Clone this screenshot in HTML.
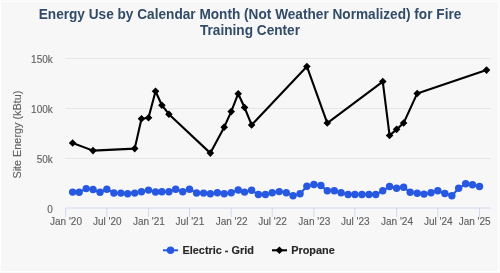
<!DOCTYPE html>
<html><head><meta charset="utf-8"><style>
html,body{margin:0;padding:0;background:#fff;width:500px;height:273px;overflow:hidden}
svg{position:absolute;left:0;top:0;display:block;will-change:transform}
text{font-family:"Liberation Sans",sans-serif}
.ax{font-size:10px;fill:#606060;stroke:#606060;stroke-width:0.12px}
.yt{font-size:10.85px;fill:#606060;stroke:#606060;stroke-width:0.1px}
.lg{font-size:10.9px;font-weight:bold;fill:#282828;stroke:#282828;stroke-width:0.15px}
.tt{font-size:13.65px;font-weight:bold;fill:#314b68}
</style></head><body>
<svg width="500" height="273" viewBox="0 0 500 273">
<rect x="0" y="0" width="500" height="273" fill="#f9f9f9"/>
<rect x="0" y="1" width="499" height="271" fill="#fff"/>
<rect x="1" y="2" width="497" height="269" fill="#f7f7f7"/>
<line x1="65.8" x2="491" y1="158.50" y2="158.50" stroke="#e6e6e6" stroke-width="1"/>
<line x1="65.8" x2="491" y1="108.50" y2="108.50" stroke="#e6e6e6" stroke-width="1"/>
<line x1="65.8" x2="491" y1="58.50" y2="58.50" stroke="#e6e6e6" stroke-width="1"/>
<line x1="65.8" x2="491" y1="208" y2="208" stroke="#ccd6eb" stroke-width="0.9"/>
<line x1="65.60" x2="65.60" y1="208" y2="217" stroke="#ccd6eb" stroke-width="0.9"/>
<text x="66.00" y="224.6" text-anchor="middle" class="ax">Jan '20</text>
<line x1="106.83" x2="106.83" y1="208" y2="217" stroke="#ccd6eb" stroke-width="0.9"/>
<text x="107.23" y="224.6" text-anchor="middle" class="ax">Jul '20</text>
<line x1="148.52" x2="148.52" y1="208" y2="217" stroke="#ccd6eb" stroke-width="0.9"/>
<text x="148.92" y="224.6" text-anchor="middle" class="ax">Jan '21</text>
<line x1="189.52" x2="189.52" y1="208" y2="217" stroke="#ccd6eb" stroke-width="0.9"/>
<text x="189.92" y="224.6" text-anchor="middle" class="ax">Jul '21</text>
<line x1="231.21" x2="231.21" y1="208" y2="217" stroke="#ccd6eb" stroke-width="0.9"/>
<text x="231.61" y="224.6" text-anchor="middle" class="ax">Jan '22</text>
<line x1="272.21" x2="272.21" y1="208" y2="217" stroke="#ccd6eb" stroke-width="0.9"/>
<text x="272.61" y="224.6" text-anchor="middle" class="ax">Jul '22</text>
<line x1="313.90" x2="313.90" y1="208" y2="217" stroke="#ccd6eb" stroke-width="0.9"/>
<text x="314.30" y="224.6" text-anchor="middle" class="ax">Jan '23</text>
<line x1="354.90" x2="354.90" y1="208" y2="217" stroke="#ccd6eb" stroke-width="0.9"/>
<text x="355.30" y="224.6" text-anchor="middle" class="ax">Jul '23</text>
<line x1="396.59" x2="396.59" y1="208" y2="217" stroke="#ccd6eb" stroke-width="0.9"/>
<text x="396.99" y="224.6" text-anchor="middle" class="ax">Jan '24</text>
<line x1="437.82" x2="437.82" y1="208" y2="217" stroke="#ccd6eb" stroke-width="0.9"/>
<text x="438.22" y="224.6" text-anchor="middle" class="ax">Jul '24</text>
<line x1="479.51" x2="479.51" y1="208" y2="217" stroke="#ccd6eb" stroke-width="0.9"/>
<text x="490.6" y="224.6" text-anchor="end" class="ax">Jan '25</text>
<text x="52.8" y="212.70" text-anchor="end" class="ax">0</text>
<text x="52.8" y="163.20" text-anchor="end" class="ax">50k</text>
<text x="52.8" y="113.20" text-anchor="end" class="ax">100k</text>
<text x="52.8" y="63.20" text-anchor="end" class="ax">150k</text>
<text transform="translate(21.1,134.6) rotate(-90)" text-anchor="middle" class="yt">Site Energy (kBtu)</text>
<polyline fill="none" stroke="#2758e2" stroke-width="2" stroke-linejoin="round" points="72.62,192.08 79.19,192.28 86.22,188.59 93.01,189.49 100.04,192.28 106.83,189.29 113.86,192.98 120.88,193.08 127.67,193.78 134.70,193.08 141.49,191.78 148.52,190.09 155.54,191.98 161.88,191.78 168.91,191.78 175.70,189.29 182.73,191.78 189.52,189.29 196.55,192.98 203.57,193.08 210.37,193.78 217.39,192.78 224.19,193.78 231.21,192.78 238.23,189.99 244.57,192.08 251.60,190.29 258.39,194.48 265.42,194.48 272.21,192.78 279.24,191.58 286.26,192.78 293.06,195.78 300.08,193.78 306.88,186.29 313.90,184.50 320.92,185.50 327.27,190.78 334.29,190.78 341.08,192.78 348.11,194.48 354.90,194.48 361.93,194.48 368.95,194.48 375.75,194.48 382.77,190.78 389.57,186.49 396.59,188.29 403.61,187.29 410.18,192.28 417.21,193.28 424.00,194.08 431.03,192.78 437.82,190.78 444.84,193.48 451.87,195.78 458.66,188.29 465.69,183.80 472.48,184.80 479.51,186.49"/>
<circle cx="72.62" cy="192.08" r="3.7" fill="#2758e2"/>
<circle cx="79.19" cy="192.28" r="3.7" fill="#2758e2"/>
<circle cx="86.22" cy="188.59" r="3.7" fill="#2758e2"/>
<circle cx="93.01" cy="189.49" r="3.7" fill="#2758e2"/>
<circle cx="100.04" cy="192.28" r="3.7" fill="#2758e2"/>
<circle cx="106.83" cy="189.29" r="3.7" fill="#2758e2"/>
<circle cx="113.86" cy="192.98" r="3.7" fill="#2758e2"/>
<circle cx="120.88" cy="193.08" r="3.7" fill="#2758e2"/>
<circle cx="127.67" cy="193.78" r="3.7" fill="#2758e2"/>
<circle cx="134.70" cy="193.08" r="3.7" fill="#2758e2"/>
<circle cx="141.49" cy="191.78" r="3.7" fill="#2758e2"/>
<circle cx="148.52" cy="190.09" r="3.7" fill="#2758e2"/>
<circle cx="155.54" cy="191.98" r="3.7" fill="#2758e2"/>
<circle cx="161.88" cy="191.78" r="3.7" fill="#2758e2"/>
<circle cx="168.91" cy="191.78" r="3.7" fill="#2758e2"/>
<circle cx="175.70" cy="189.29" r="3.7" fill="#2758e2"/>
<circle cx="182.73" cy="191.78" r="3.7" fill="#2758e2"/>
<circle cx="189.52" cy="189.29" r="3.7" fill="#2758e2"/>
<circle cx="196.55" cy="192.98" r="3.7" fill="#2758e2"/>
<circle cx="203.57" cy="193.08" r="3.7" fill="#2758e2"/>
<circle cx="210.37" cy="193.78" r="3.7" fill="#2758e2"/>
<circle cx="217.39" cy="192.78" r="3.7" fill="#2758e2"/>
<circle cx="224.19" cy="193.78" r="3.7" fill="#2758e2"/>
<circle cx="231.21" cy="192.78" r="3.7" fill="#2758e2"/>
<circle cx="238.23" cy="189.99" r="3.7" fill="#2758e2"/>
<circle cx="244.57" cy="192.08" r="3.7" fill="#2758e2"/>
<circle cx="251.60" cy="190.29" r="3.7" fill="#2758e2"/>
<circle cx="258.39" cy="194.48" r="3.7" fill="#2758e2"/>
<circle cx="265.42" cy="194.48" r="3.7" fill="#2758e2"/>
<circle cx="272.21" cy="192.78" r="3.7" fill="#2758e2"/>
<circle cx="279.24" cy="191.58" r="3.7" fill="#2758e2"/>
<circle cx="286.26" cy="192.78" r="3.7" fill="#2758e2"/>
<circle cx="293.06" cy="195.78" r="3.7" fill="#2758e2"/>
<circle cx="300.08" cy="193.78" r="3.7" fill="#2758e2"/>
<circle cx="306.88" cy="186.29" r="3.7" fill="#2758e2"/>
<circle cx="313.90" cy="184.50" r="3.7" fill="#2758e2"/>
<circle cx="320.92" cy="185.50" r="3.7" fill="#2758e2"/>
<circle cx="327.27" cy="190.78" r="3.7" fill="#2758e2"/>
<circle cx="334.29" cy="190.78" r="3.7" fill="#2758e2"/>
<circle cx="341.08" cy="192.78" r="3.7" fill="#2758e2"/>
<circle cx="348.11" cy="194.48" r="3.7" fill="#2758e2"/>
<circle cx="354.90" cy="194.48" r="3.7" fill="#2758e2"/>
<circle cx="361.93" cy="194.48" r="3.7" fill="#2758e2"/>
<circle cx="368.95" cy="194.48" r="3.7" fill="#2758e2"/>
<circle cx="375.75" cy="194.48" r="3.7" fill="#2758e2"/>
<circle cx="382.77" cy="190.78" r="3.7" fill="#2758e2"/>
<circle cx="389.57" cy="186.49" r="3.7" fill="#2758e2"/>
<circle cx="396.59" cy="188.29" r="3.7" fill="#2758e2"/>
<circle cx="403.61" cy="187.29" r="3.7" fill="#2758e2"/>
<circle cx="410.18" cy="192.28" r="3.7" fill="#2758e2"/>
<circle cx="417.21" cy="193.28" r="3.7" fill="#2758e2"/>
<circle cx="424.00" cy="194.08" r="3.7" fill="#2758e2"/>
<circle cx="431.03" cy="192.78" r="3.7" fill="#2758e2"/>
<circle cx="437.82" cy="190.78" r="3.7" fill="#2758e2"/>
<circle cx="444.84" cy="193.48" r="3.7" fill="#2758e2"/>
<circle cx="451.87" cy="195.78" r="3.7" fill="#2758e2"/>
<circle cx="458.66" cy="188.29" r="3.7" fill="#2758e2"/>
<circle cx="465.69" cy="183.80" r="3.7" fill="#2758e2"/>
<circle cx="472.48" cy="184.80" r="3.7" fill="#2758e2"/>
<circle cx="479.51" cy="186.49" r="3.7" fill="#2758e2"/>
<polyline fill="none" stroke="#000" stroke-width="2.1" stroke-linejoin="round" points="72.62,143.03 93.01,150.62 134.70,148.62 141.49,118.68 148.52,117.68 155.54,91.23 161.88,105.21 168.91,114.19 210.37,153.11 224.19,127.16 231.21,111.59 238.23,93.73 244.57,107.50 251.60,124.97 306.88,66.48 327.27,123.07 382.77,81.55 389.57,135.45 396.59,129.36 403.61,123.07 417.21,93.43 486.53,70.08"/>
<path d="M72.62 139.23L76.42 143.03L72.62 146.83L68.82 143.03Z" fill="#000"/>
<path d="M93.01 146.81L96.81 150.62L93.01 154.42L89.21 150.62Z" fill="#000"/>
<path d="M134.70 144.82L138.50 148.62L134.70 152.42L130.90 148.62Z" fill="#000"/>
<path d="M141.49 114.88L145.29 118.68L141.49 122.48L137.69 118.68Z" fill="#000"/>
<path d="M148.52 113.88L152.32 117.68L148.52 121.48L144.72 117.68Z" fill="#000"/>
<path d="M155.54 87.43L159.34 91.23L155.54 95.03L151.74 91.23Z" fill="#000"/>
<path d="M161.88 101.41L165.68 105.21L161.88 109.01L158.08 105.21Z" fill="#000"/>
<path d="M168.91 110.39L172.71 114.19L168.91 117.99L165.11 114.19Z" fill="#000"/>
<path d="M210.37 149.31L214.17 153.11L210.37 156.91L206.57 153.11Z" fill="#000"/>
<path d="M224.19 123.36L227.99 127.16L224.19 130.96L220.38 127.16Z" fill="#000"/>
<path d="M231.21 107.79L235.01 111.59L231.21 115.39L227.41 111.59Z" fill="#000"/>
<path d="M238.23 89.93L242.03 93.73L238.23 97.53L234.43 93.73Z" fill="#000"/>
<path d="M244.57 103.70L248.37 107.50L244.57 111.30L240.77 107.50Z" fill="#000"/>
<path d="M251.60 121.17L255.40 124.97L251.60 128.77L247.80 124.97Z" fill="#000"/>
<path d="M306.88 62.68L310.68 66.48L306.88 70.28L303.08 66.48Z" fill="#000"/>
<path d="M327.27 119.27L331.07 123.07L327.27 126.87L323.47 123.07Z" fill="#000"/>
<path d="M382.77 77.75L386.57 81.55L382.77 85.35L378.97 81.55Z" fill="#000"/>
<path d="M389.57 131.65L393.37 135.45L389.57 139.25L385.77 135.45Z" fill="#000"/>
<path d="M396.59 125.56L400.39 129.36L396.59 133.16L392.79 129.36Z" fill="#000"/>
<path d="M403.61 119.27L407.41 123.07L403.61 126.87L399.81 123.07Z" fill="#000"/>
<path d="M417.21 89.63L421.01 93.43L417.21 97.23L413.41 93.43Z" fill="#000"/>
<path d="M486.53 66.28L490.33 70.08L486.53 73.88L482.73 70.08Z" fill="#000"/>
<line x1="163" x2="178" y1="250.3" y2="250.3" stroke="#2758e2" stroke-width="2"/>
<circle cx="170.5" cy="250.3" r="3.75" fill="#2758e2"/>
<text transform="translate(182.5,253.6) scale(1,1.05)" class="lg">Electric - Grid</text>
<line x1="272" x2="287" y1="250.3" y2="250.3" stroke="#000" stroke-width="2.1"/>
<path d="M279.40 246.50L283.20 250.30L279.40 254.10L275.60 250.30Z" fill="#000"/>
<text transform="translate(291.2,253.6) scale(1,1.05)" class="lg">Propane</text>
<text transform="translate(250,18.9) scale(1,1.09)" text-anchor="middle" class="tt">Energy Use by Calendar Month (Not Weather Normalized) for Fire</text>
<text transform="translate(250,35.3) scale(1,1.03)" text-anchor="middle" class="tt">Training Center</text>
</svg>
</body></html>
